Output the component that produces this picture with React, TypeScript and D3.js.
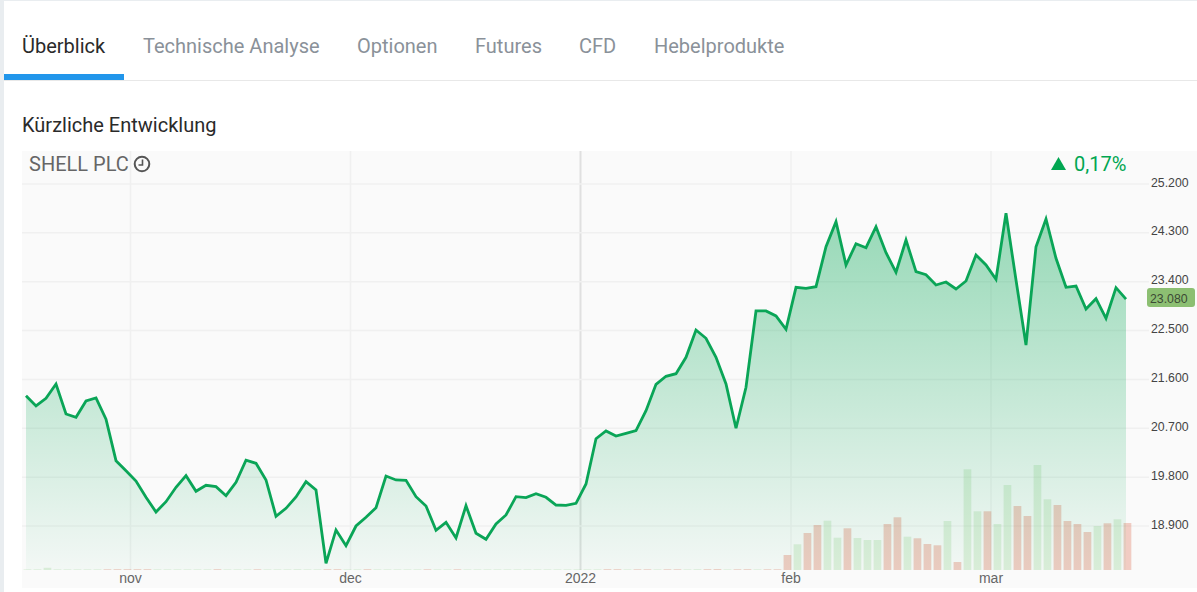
import React from "react";
import * as d3 from "d3";

const tabs = ["Überblick", "Technische Analyse", "Optionen", "Futures", "CFD", "Hebelprodukte"];
const tabX = [22, 143, 357, 475, 579, 654];
const yTicks = [25200, 24300, 23400, 22500, 21600, 20700, 19800, 18900];
const monthLabels = ["nov", "dec", "2022", "feb", "mar"];
const monthPos = [10.45, 32.45, 55.45, 76.5, 96.5];
const lastPrice = 23080;

const prices = [
  21300, 21111, 21253, 21516, 20963, 20903, 21203, 21258, 20866, 20103,
  19919, 19729, 19429, 19158, 19348, 19613, 19827, 19540, 19650, 19624,
  19458, 19705, 20111, 20055, 19748, 19079, 19226, 19435, 19716, 19563,
  18213, 18827, 18537, 18900, 19061, 19237, 19821, 19748, 19742, 19440,
  19269, 18821, 18968, 18679, 19274, 18766, 18655, 18937, 19103, 19440,
  19422, 19495, 19429, 19287, 19281, 19318, 19674, 20508, 20650, 20558,
  20608, 20656, 21024, 21510, 21658, 21706, 22008, 22511, 22358, 22008,
  21516, 20700, 21455, 22861, 22861, 22769, 22524, 23297, 23279, 23308,
  24045, 24506, 23708, 24100, 24027, 24413, 23935, 23574, 24168, 23585,
  23529, 23340, 23395, 23266, 23413, 23892, 23708, 23445, 24660, 23432,
  22234, 24045, 24555, 23831, 23297, 23321, 22897, 23087, 22726, 23290,
  23080,
];

const volumes = [
  0.7, 0.7, 2.2, 0.7, 0.7, 0.7, 0.7, 0.7, 0.7, 0.8,
  0.8, 0.8, 0.8, 0.7, 0.7, 0.7, 0.7, 0.7, 0.7, 0.8,
  0.7, 0.7, 0.7, 0.7, 0.7, 0.7, 0.7, 0.8, 0.7, 0.7,
  0.8, 0.8, 0.7, 0.7, 0.8, 0.7, 0.7, 0.7, 0.7, 0.7,
  0.7, 0.7, 0.7, 0.7, 0.7, 0.7, 0.7, 0.7, 0.7, 0.7,
  0.7, 0.7, 0.7, 0.7, 0.7, 0.7, 0.7, 0.7, 0.8, 0.8,
  0.7, 0.7, 0.7, 0.7, 0.7, 0.7, 0.7, 0.8, 0.8, 0.9,
  0.7, 0.7, 0.8, 0.7, 0.7, 0.7, 15, 25.7, 37, 45,
  49.3, 32.3, 41.7, 32, 30, 30, 46, 52.7, 33.3, 31.7,
  26, 24.7, 49, 8, 100.7, 58.7, 58.7, 46, 85, 64,
  54, 105, 70.7, 65, 49, 46, 38, 44, 46.7, 50.7,
  47,
];

const volumeDirs = [
  "g", "g", "g", "g", "g", "g", "g", "g", "r", "r",
  "r", "r", "r", "g", "g", "g", "g", "g", "g", "r",
  "g", "g", "g", "r", "g", "g", "g", "g", "g", "g",
  "r", "r", "g", "g", "r", "g", "g", "g", "g", "g",
  "r", "g", "g", "r", "g", "g", "g", "g", "g", "g",
  "g", "g", "g", "g", "g", "g", "g", "g", "r", "r",
  "g", "r", "r", "g", "r", "r", "g", "g", "r", "r",
  "g", "r", "r", "g", "r", "r", "r", "g", "r", "r",
  "g", "g", "r", "g", "g", "g", "r", "r", "g", "r",
  "r", "r", "g", "r", "g", "g", "r", "g", "g", "r",
  "r", "g", "g", "r", "r", "r", "r", "g", "r", "g",
  "r",
];

const x = d3.scaleLinear().domain([0, prices.length - 1]).range([26, 1126]);
const y = d3.scaleLinear().domain([18900, 25200]).range([526, 184]);
const v = d3.scaleLinear().domain([0, 105]).range([570, 465]);

const BASE = 570;
const TOP = 213;
const fmt = (n: number) => d3.format(",.0f")(n).replace(",", ".");

const line = d3.line<number>().x((_, i) => x(i)).y((d) => y(d));
const area = d3.area<number>().x((_, i) => x(i)).y0(BASE).y1((d) => y(d));

const UI = "Roboto, sans-serif";
const AX = "'Liberation Sans', Arial, sans-serif";

export default function App() {
  return (
    <svg width={1197} height={592} style={{ position: "absolute", left: 0, top: 0, display: "block" }}>
      <defs>
        <linearGradient id="areaFill" gradientUnits="userSpaceOnUse" x1="0" x2="0" y1={TOP} y2={BASE}>
          <stop offset="0" stopColor="#00a651" stopOpacity={0.4} />
          <stop offset="1" stopColor="#00a651" stopOpacity={0.03} />
        </linearGradient>
      </defs>
      <rect width={1197} height={592} fill="#ffffff" />
      <rect x={0} y={0} width={4} height={592} fill="#e9edf0" />
      <rect x={4} y={0} width={1193} height={1} fill="#e9edf0" />
      <rect x={4} y={80} width={1193} height={1} fill="#e8e8e8" />
      <rect x={4} y={74} width={120} height={6} fill="#2196eb" />
      {tabs.map((t, i) => (
        <text key={t} x={tabX[i]} y={53} fontFamily={UI} fontSize={20} fill={i === 0 ? "#2a2a2a" : "#8a9199"}>
          {t}
        </text>
      ))}
      <text x={22} y={132} fontFamily={UI} fontSize={20} fill="#2a2a2a">Kürzliche Entwicklung</text>

      <rect x={22} y={151} width={1175} height={437} fill="#fafafa" />
      {monthPos.map((m, i) => (
        <line key={m} x1={x(m)} x2={x(m)} y1={151} y2={BASE}
          stroke={monthLabels[i] === "2022" ? "#e0e0e0" : "#f0f0f0"} strokeWidth={monthLabels[i] === "2022" ? 2 : 1.5} />
      ))}
      {yTicks.map((t) => (
        <line key={t} x1={22} x2={1149} y1={y(t)} y2={y(t)} stroke="#f0f0f0" strokeWidth={1.5} />
      ))}

      {volumes.map((d, i) => (
        <rect key={i} x={x(i) - 2.4} width={7.7} y={v(d)} height={BASE - v(d)}
          fill={volumeDirs[i] === "r" ? "#e07a60" : "#8fcf85"} fillOpacity={volumeDirs[i] === "r" ? 0.36 : 0.25} />
      ))}
      <path d={area(prices) ?? ""} fill="url(#areaFill)" />
      <path d={line(prices) ?? ""} fill="none" stroke="#0aa557" strokeWidth={2.8} strokeLinejoin="miter" />

      {yTicks.map((t) => (
        <text key={t} x={1151} y={y(t) + 2.5} fontFamily={AX} fontSize={12.3} fill="#444444">{fmt(t)}</text>
      ))}
      <rect x={1147} y={288} width={48} height={19} rx={3} fill="#8cbf72" />
      <text x={1150} y={y(lastPrice) + 4} fontFamily={AX} fontSize={12.3} fill="#3c4a35">{fmt(lastPrice)}</text>

      {monthLabels.map((m, i) => (
        <text key={m} x={x(monthPos[i])} y={583} textAnchor="middle" fontFamily={AX} fontSize={14} fill="#666666">{m}</text>
      ))}

      <text x={29} y={171} fontFamily={UI} fontSize={20} fill="#666666">SHELL PLC</text>
      <circle cx={142} cy={164} r={7.3} fill="none" stroke="#555555" strokeWidth={2} />
      <path d="M142.5 159.5V165H138.5" fill="none" stroke="#555555" strokeWidth={1.6} />
      <path d="M1051 170L1058.5 157L1066 170Z" fill="#00a651" />
      <text x={1074} y={171} fontFamily={UI} fontSize={20} fill="#00a651">0,17%</text>
    </svg>
  );
}
